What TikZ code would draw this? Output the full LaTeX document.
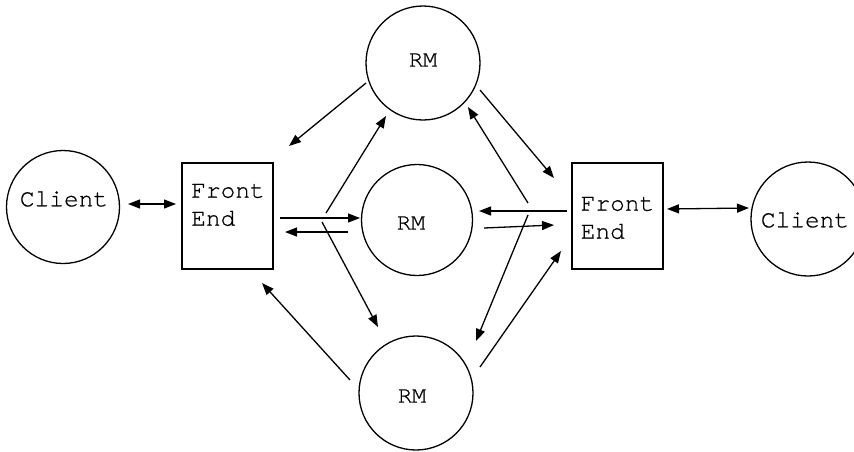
\documentclass[tikz,border=0pt]{standalone}
\usepackage{fontspec}
\setmonofont{TeX Gyre Cursor}
\usetikzlibrary{arrows.meta}
\tikzset{
  every picture/.style={x=1pt,y=-1pt},
  circ/.style={draw,circle,line width=1.3pt,minimum size=#1,inner sep=0pt},
  febox/.style={draw,rectangle,line width=1.3pt,minimum width=91pt,minimum height=106pt,inner sep=0pt},
  lbl/.style={font=\ttfamily\fontsize{24.5}{28}\selectfont\addfontfeature{FakeBold=0.6},align=left,inner sep=0pt},
  rmlbl/.style={font=\ttfamily\fontsize{23.5}{24}\selectfont\addfontfeature{FakeBold=0.6},inner sep=0pt},
  arr/.style={line width=1.3pt,-{Triangle[length=12pt,width=9pt]}},
  darr/.style={line width=1.3pt,{Triangle[length=12pt,width=9pt]}-{Triangle[length=12pt,width=9pt]}}
}
\begin{document}
\begin{tikzpicture}
\useasboundingbox (0,0) rectangle (854,451);
\clip (0,0) rectangle (854,451);
% nodes
\node[circ=113pt,label={[lbl,xshift=1pt,yshift=8pt]center:Client}] (cL) at (63,207) {};
\node[circ=114pt,label={[lbl,xshift=-3pt,yshift=-1pt]center:Client}] (cR) at (808,219) {};
\node[circ=114pt,label={[rmlbl,yshift=3pt]center:RM}] (rmT) at (423,63) {};
\node[circ=111pt,label={[rmlbl,xshift=-6pt,yshift=-3pt]center:RM}] (rmM) at (417,220) {};
\node[circ=114pt,label={[rmlbl,xshift=-4pt,yshift=-3pt]center:RM}] (rmB) at (416,393) {};
\node[febox] (feL) at (227.5,216) {};
\node[febox] (feR) at (617.5,216) {};
\node[lbl] (feLt) at (228,205) {Front\\End};
\node[lbl] (feRt) at (617.5,218) {Front\\End};
% connector end points
\coordinate (a1s) at (366,83);  \coordinate (a1e) at (289,146);
\coordinate (a2s) at (326,213); \coordinate (a2e) at (386,116);
\coordinate (a3s) at (480,90);  \coordinate (a3e) at (554,178);
\coordinate (a4s) at (528,203); \coordinate (a4e) at (468,107);
\coordinate (a5s) at (280,218); \coordinate (a5e) at (360,218);
\coordinate (a6s) at (348,232); \coordinate (a6e) at (285,232);
\coordinate (a7s) at (567,211); \coordinate (a7e) at (479,211);
\coordinate (a8s) at (484,228); \coordinate (a8e) at (554,225);
\coordinate (a9s) at (322,222); \coordinate (a9e) at (378,327);
\coordinate (a10s) at (350,380); \coordinate (a10e) at (262,283);
\coordinate (a11s) at (528,215); \coordinate (a11e) at (476,341);
\coordinate (a12s) at (480,367); \coordinate (a12e) at (561,251);
\coordinate (d1s) at (128,204); \coordinate (d1e) at (176,204);
\coordinate (d2s) at (667,209); \coordinate (d2e) at (749,208);
% connectors
\draw[arr] (a1s) -- (a1e);
\draw[arr] (a2s) -- (a2e);
\draw[arr] (a3s) -- (a3e);
\draw[arr] (a4s) -- (a4e);
\draw[arr] (a5s) -- (a5e);
\draw[arr] (a6s) -- (a6e);
\draw[arr] (a7s) -- (a7e);
\draw[arr] (a8s) -- (a8e);
\draw[arr] (a9s) -- (a9e);
\draw[arr] (a10s) -- (a10e);
\draw[arr] (a11s) -- (a11e);
\draw[arr] (a12s) -- (a12e);
\draw[darr] (d1s) -- (d1e);
\draw[darr] (d2s) -- (d2e);
\end{tikzpicture}
\end{document}
